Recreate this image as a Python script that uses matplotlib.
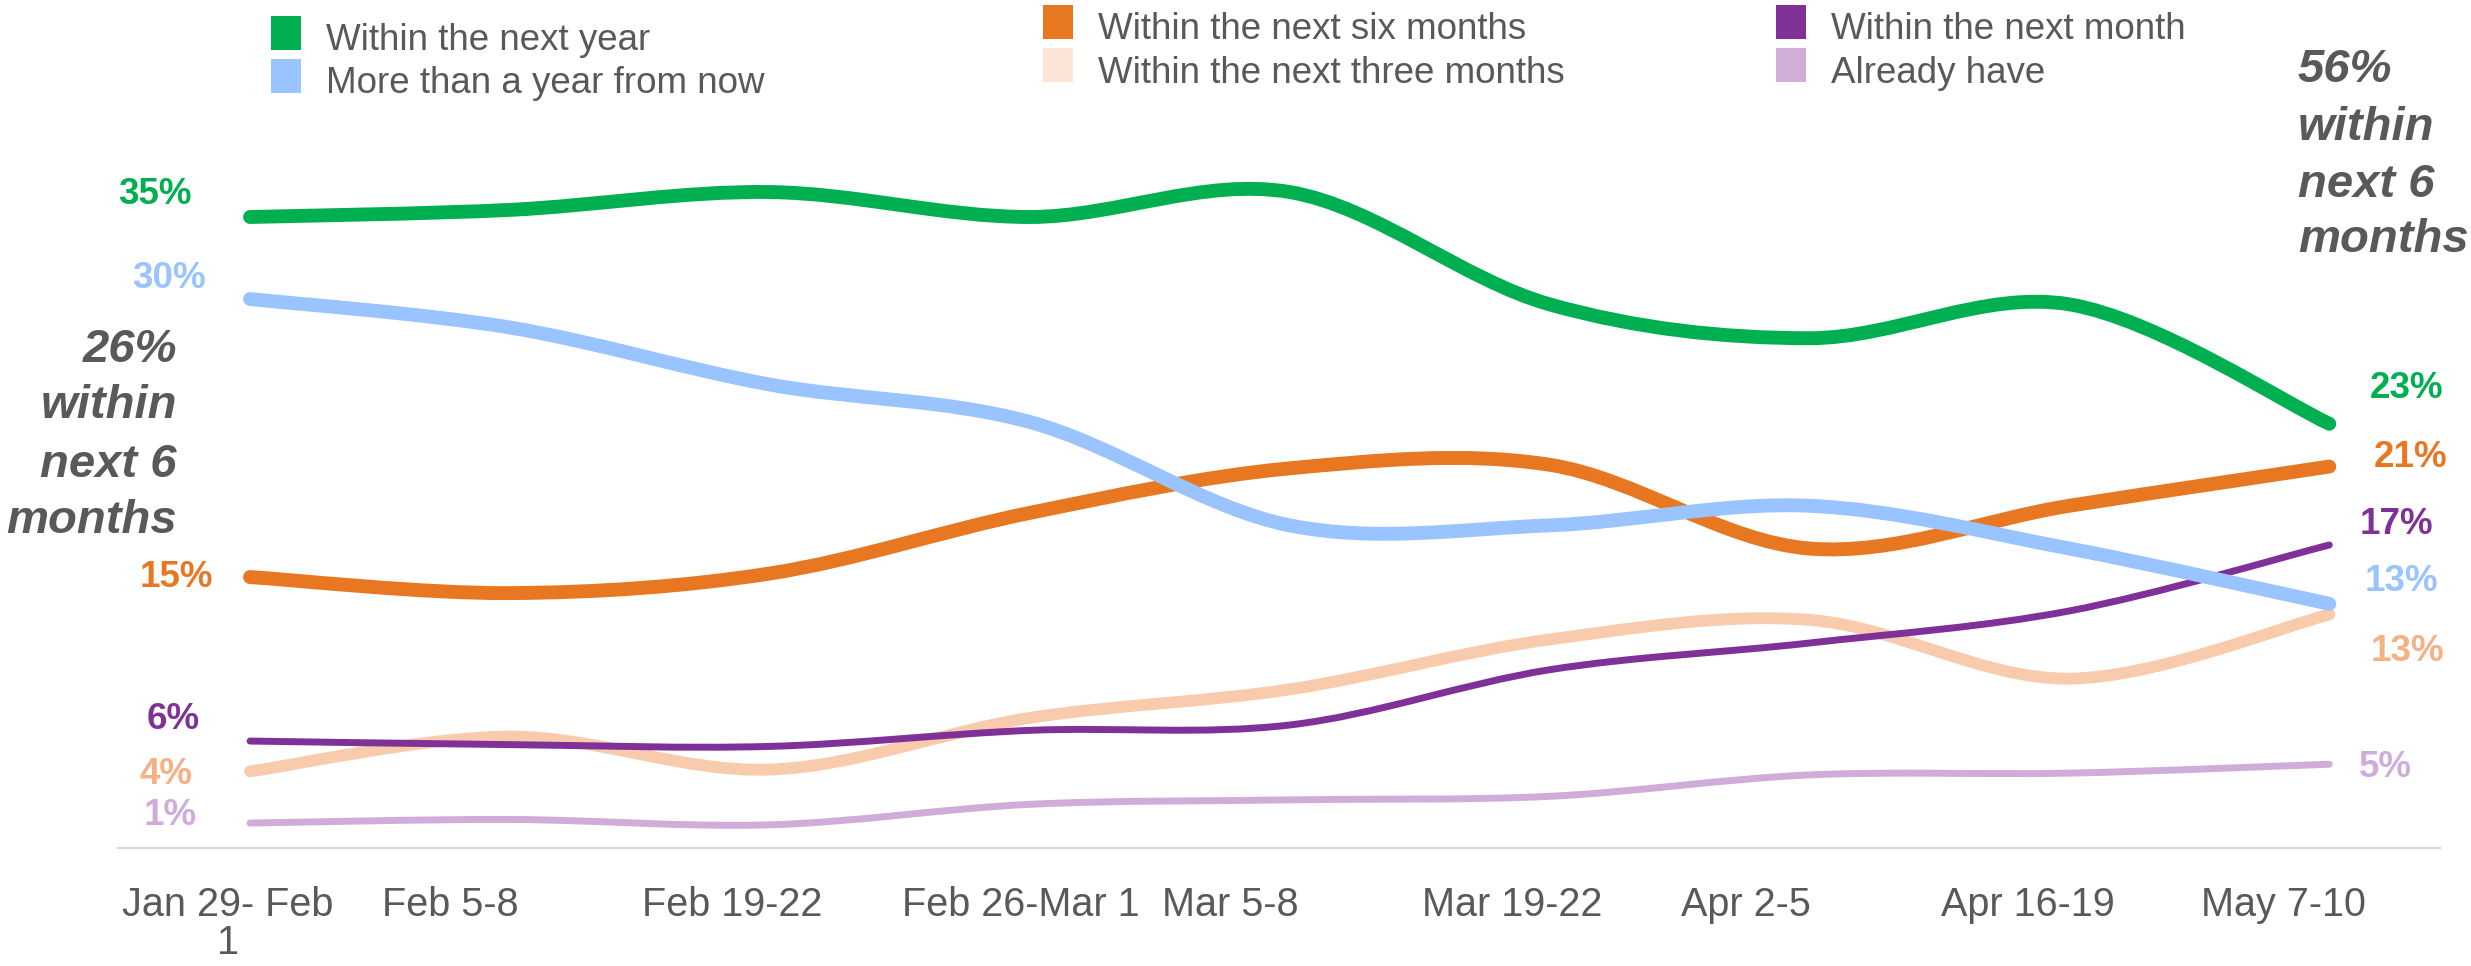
import numpy as np
import matplotlib.pyplot as plt
from matplotlib.path import Path
from matplotlib.patches import PathPatch, Rectangle
from matplotlib import font_manager

plt.rcParams['font.family'] = ['Liberation Sans', 'DejaVu Sans']

W, H = 2471, 966
GREY = '#595959'

# survey waves
waves = ['Jan 29- Feb\n1', 'Feb 5-8', 'Feb 19-22', 'Feb 26-Mar 1', 'Mar 5-8',
         'Mar 19-22', 'Apr 2-5', 'Apr 16-19', 'May 7-10']

# share of respondents (%)
within_year = [35.0, 35.4, 36.4, 35.0, 36.4, 30.1, 28.2, 30.1, 23.4]
more_than_year = [30.4, 28.8, 25.6, 23.5, 17.7, 17.7, 18.8, 16.4, 13.3]
within_six = [14.8, 13.9, 15.0, 18.4, 20.9, 21.1, 16.4, 18.8, 21.0]
within_three = [3.9, 5.85, 4.0, 6.9, 8.5, 11.3, 12.4, 9.1, 12.7]
within_month = [5.6, 5.4, 5.3, 6.2, 6.5, 9.6, 11.1, 12.9, 16.6]
already_have = [1.0, 1.2, 0.9, 2.05, 2.3, 2.5, 3.7, 3.8, 4.3]


def smooth_path(x, y):
    # Catmull-Rom style bezier through the points (like excel "smoothed line")
    x = np.asarray(x, float)
    y = np.asarray(y, float)
    n = len(x)
    verts = [(x[0], y[0])]
    codes = [Path.MOVETO]
    for i in range(n - 1):
        a = max(i - 1, 0)
        b = min(i + 2, n - 1)
        c1 = (x[i] + (x[i + 1] - x[a]) / 6, y[i] + (y[i + 1] - y[a]) / 6)
        c2 = (x[i + 1] - (x[b] - x[i]) / 6, y[i + 1] - (y[b] - y[i]) / 6)
        verts += [c1, c2, (x[i + 1], y[i + 1])]
        codes += [Path.CURVE4] * 3
    return Path(verts, codes)


def fx(px):
    return px / W


def fy(py):
    return 1 - py / H


fig = plt.figure(figsize=(W / 100, H / 100), dpi=100)
ax = fig.add_axes([fx(118), fy(848), fx(2440) - fx(118), fy(158) - fy(848)])
ax.set_xlim(-0.508, 8.426)
ax.set_ylim(-0.40, 38.31)
for s in ['top', 'right', 'left']:
    ax.spines[s].set_visible(False)
ax.spines['bottom'].set_color('#D9D9D9')
ax.spines['bottom'].set_linewidth(1.6)
ax.set_yticks([])
ax.set_xticks([])

xs = np.arange(len(waves))

# (values, first label, last label, line colour, width, label colour, label offsets)
series = [
    (already_have, '1%', '5%', '#CFACD9', 5.0, '#CFACD9', (-53, 8), (30, -3)),
    (within_three, '4%', '13%', '#F8CBAD', 8.5, '#F4B183', (-58, -3), (41, -37)),
    (within_month, '6%', '17%', '#7F3198', 5.0, '#7F3198', (-50, 22), (30, 20)),
    (within_six, '15%', '21%', '#E87722', 10.0, '#E87722', (-37, 0), (44, 9)),
    (more_than_year, '30%', '13%', '#99C4FF', 10.0, '#99C4FF', (-44, 20), (35, 22)),
    (within_year, '35%', '23%', '#00B050', 10.0, '#00B050', (-58, 23), (40, 35)),
]

for vals, l0, l1, col, lw, tcol, off0, off1 in series:
    patch = PathPatch(smooth_path(xs, vals), fill=False, edgecolor=col, lw=lw,
                      capstyle='round', joinstyle='round')
    ax.add_patch(patch)
    ax.annotate(l0, (xs[0], vals[0]), xytext=off0,
                textcoords='offset pixels', ha='right', va='center',
                color=tcol, fontsize=26.5, fontweight='bold')
    ax.annotate(l1, (xs[-1], vals[-1]), xytext=off1,
                textcoords='offset pixels', ha='left', va='center',
                color=tcol, fontsize=26.5, fontweight='bold')

# category labels, left aligned in their slot
names = {f.name for f in font_manager.fontManager.ttflist}
if 'Liberation Sans Narrow' in names:
    tick_font, tick_size = 'Liberation Sans Narrow', 33
else:
    tick_font, tick_size = 'Liberation Sans', 28.5
for i, lab in enumerate(waves):
    ax.annotate(lab, (xs[i], 0), xycoords=('data', 'axes fraction'),
                xytext=(-128, -38), textcoords='offset pixels',
                ha='left', va='top', multialignment='center',
                family=tick_font, fontsize=tick_size, color=GREY,
                linespacing=1.0, annotation_clip=False)

# legend drawn by hand in three columns
legend = [
    ('Within the next year', '#00B050', 271, 326, 33, 50),
    ('More than a year from now', '#99C4FF', 271, 326, 76, 93),
    ('Within the next six months', '#E87722', 1043, 1098, 22, 39),
    ('Within the next three months', '#FBE5D6', 1043, 1098, 65, 83),
    ('Within the next month', '#7F3198', 1776, 1831, 22, 39),
    ('Already have', '#D1AED8', 1776, 1831, 65, 83),
]
for txt, col, sx, tx, sy, base in legend:
    fig.add_artist(Rectangle((fx(sx), fy(sy + 17)), 30 / W, 34 / H,
                             transform=fig.transFigure, color=col, lw=0))
    fig.text(fx(tx), fy(base), txt, ha='left', va='baseline', fontsize=26.5, color=GREY)

# call-outs
left_lines = ['26%', 'within', 'next 6', 'months']
for t, b in zip(left_lines, [362, 418, 477, 533]):
    fig.text(fx(177), fy(b), t, ha='right', va='baseline', fontsize=34,
             fontweight='bold', fontstyle='italic', color=GREY)
right_lines = ['56%', 'within', 'next 6', 'months']
for t, b in zip(right_lines, [82, 140, 197, 252]):
    fig.text(fx(2298), fy(b), t, ha='left', va='baseline', fontsize=34,
             fontweight='bold', fontstyle='italic', color=GREY)

fig.savefig('out.png', dpi=100, facecolor='white')
